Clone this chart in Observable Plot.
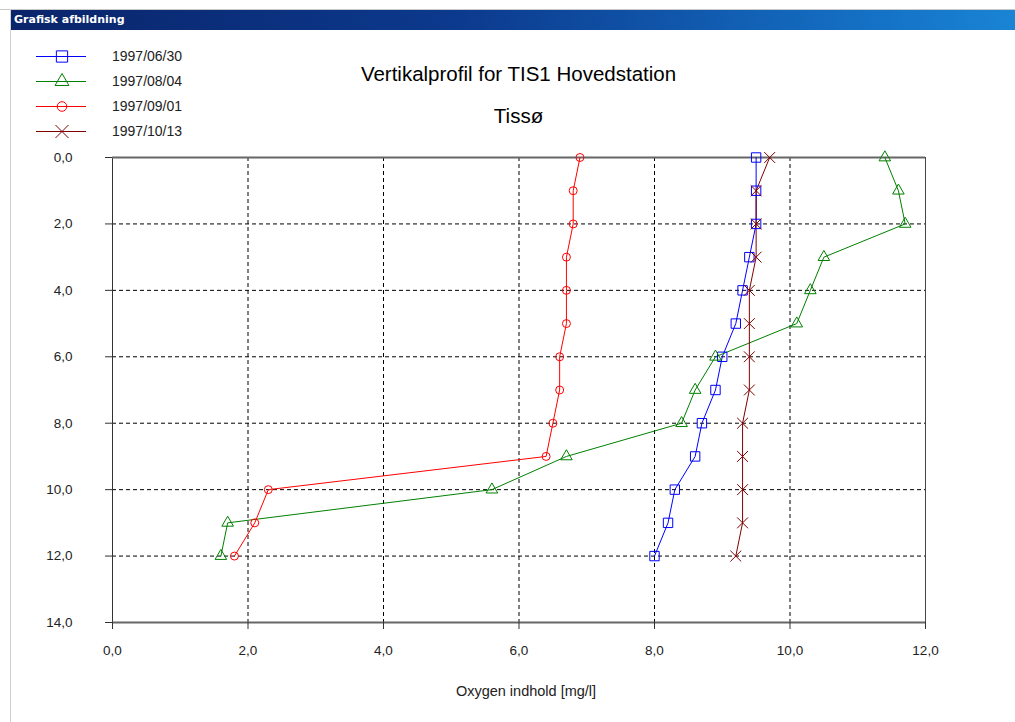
<!DOCTYPE html>
<html>
<head>
<meta charset="utf-8">
<script src="https://cdn.jsdelivr.net/npm/d3@7"></script>
<script src="https://cdn.jsdelivr.net/npm/@observablehq/plot@0.6"></script>
<style>
  html, body { margin: 0; padding: 0; background: #fff; width: 1015px; height: 722px; overflow: hidden; }
  body { position: relative; font-family: "Liberation Sans", Arial, sans-serif; }
  #chart { position: absolute; left: 0; top: 0; }
  #topstrip { position: absolute; left: 0; top: 0; width: 1015px; height: 9px; background: #fff; border-bottom: 1px solid #c8c8c8; }
  #leftline { position: absolute; left: 10px; top: 9px; width: 1px; height: 713px; background: #d0d0d0; }
  #titlebar { position: absolute; left: 11px; top: 10px; width: 1004px; height: 20px;
    background: linear-gradient(to right, #0a246a 0%, #0c3a8e 45%, #1470c4 85%, #1a84d4 100%);
    color: #fff; font-family: "DejaVu Sans", Tahoma, sans-serif; font-weight: bold; font-size: 11px; line-height: 20px; padding-left: 3px; box-sizing: border-box; }
  #title { position: absolute; left: 0; width: 1037px; top: 62px; text-align: center; font-size: 20.5px; color: #000; }
  #subtitle { position: absolute; left: 0; width: 1037px; top: 104px; text-align: center; font-size: 20.5px; color: #000; }
  #xlabel { position: absolute; left: 0; width: 1052px; top: 683px; text-align: center; font-size: 14.5px; color: #222; }
  #legend { position: absolute; left: 30px; top: 43px; }
  .lrow { position: relative; height: 25px; }
  .lrow svg { position: absolute; left: 0; top: 0; }
  .lrow span { position: absolute; left: 82px; top: 5px; font-size: 14px; color: #222; }
</style>
</head>
<body>
<div id="chart"></div>
<div id="topstrip"></div>
<div id="leftline"></div>
<div id="titlebar">Grafisk afbildning</div>
<div id="title">Vertikalprofil for TIS1 Hovedstation</div>
<div id="subtitle">Tissø</div>
<div id="xlabel"></div>
<div id="legend"></div>
<script>
// ---- data ----
const depths = [0, 1, 2, 3, 4, 5, 6, 7, 8, 9, 10, 11, 12];
const seriesNames = ["1997/06/30", "1997/08/04", "1997/09/01", "1997/10/13"];
const o2_19970630 = [9.5, 9.5, 9.5, 9.4, 9.3, 9.2, 9.0, 8.9, 8.7, 8.6, 8.3, 8.2, 8.0];
const o2_19970804 = [11.4, 11.6, 11.7, 10.5, 10.3, 10.1, 8.9, 8.6, 8.4, 6.7, 5.6, 1.7, 1.6];
const o2_19970901 = [6.9, 6.8, 6.8, 6.7, 6.7, 6.7, 6.6, 6.6, 6.5, 6.4, 2.3, 2.1, 1.8];
const o2_19971013 = [9.7, 9.5, 9.5, 9.5, 9.4, 9.4, 9.4, 9.4, 9.3, 9.3, 9.3, 9.3, 9.2];
const xTicks = [0, 2, 4, 6, 8, 10, 12];
const yTicks = [0, 2, 4, 6, 8, 10, 12, 14];
const xLabel = "Oxygen indhold [mg/l]";

const seriesValues = [o2_19970630, o2_19970804, o2_19970901, o2_19971013];
const colors = ["#0000ff", "#008000", "#ff0000", "#800000"];
const symbols = ["square", "triangle", "circle", "times"];
const radii = [5.3, 4.3, 4, 5];

document.getElementById("xlabel").textContent = xLabel;

const rows = [];
seriesValues.forEach((vals, i) => {
  vals.forEach((v, j) => rows.push({series: seriesNames[i], o2: v, depth: depths[j]}));
});

const fmt = d => d.toFixed(1).replace(".", ",");

const marks = [
  Plot.gridX(xTicks.slice(1, -1), {stroke: "#000", strokeOpacity: 1, strokeDasharray: "4,3"}),
  Plot.gridY(yTicks.slice(1, -1), {stroke: "#000", strokeOpacity: 1, strokeDasharray: "4,3"}),
  Plot.ruleX([0], {stroke: "#333", strokeWidth: 1}),
  Plot.ruleX([12], {stroke: "#444", strokeWidth: 1}),
  Plot.ruleY([0, 14], {stroke: "#666", strokeWidth: 2}),
  Plot.axisX({ticks: xTicks, tickFormat: fmt, tickSize: 7, tickPadding: 16, stroke: "#333", fill: "#222", label: null}),
  Plot.axisY({ticks: yTicks, tickFormat: fmt, tickSize: 7, tickPadding: 33, stroke: "#333", fill: "#222", label: null})
];
seriesNames.forEach((name, i) => {
  const d = rows.filter(r => r.series === name);
  marks.push(Plot.line(d, {x: "o2", y: "depth", stroke: colors[i], strokeWidth: 1, sort: null}));
});
seriesNames.forEach((name, i) => {
  const d = rows.filter(r => r.series === name);
  marks.push(Plot.dot(d, {x: "o2", y: "depth", stroke: colors[i], fill: "none", symbol: symbols[i], r: radii[i], strokeWidth: 1}));
});

const chart = Plot.plot({
  width: 1015,
  height: 722,
  marginLeft: 112,
  marginRight: 90,
  marginTop: 157,
  marginBottom: 100,
  x: {domain: [0, 12]},
  y: {domain: [0, 14], reverse: true},
  style: {fontSize: "13.5px", fontFamily: "'Liberation Sans', Arial, sans-serif", background: "transparent", color: "#222"},
  marks
});
document.getElementById("chart").appendChild(chart);

// ---- legend ----
const legend = d3.select("#legend");
seriesNames.forEach((name, i) => {
  const row = legend.append("div").attr("class", "lrow");
  const svg = row.append("svg").attr("width", 70).attr("height", 25);
  svg.append("line").attr("x1", 6).attr("x2", 56).attr("y1", 13.5).attr("y2", 13.5)
    .attr("stroke", colors[i]).attr("stroke-width", 1);
  const sym = {square: d3.symbolSquare, triangle: d3.symbolTriangle, circle: d3.symbolCircle, times: d3.symbolTimes}[symbols[i]];
  const rr = radii[i] * 1.2;
  svg.append("path").attr("d", d3.symbol(sym, Math.PI * rr * rr)())
    .attr("transform", "translate(32,13.5)")
    .attr("fill", "none").attr("stroke", colors[i]).attr("stroke-width", 1);
  row.append("span").text(name);
});
</script>
</body>
</html>
